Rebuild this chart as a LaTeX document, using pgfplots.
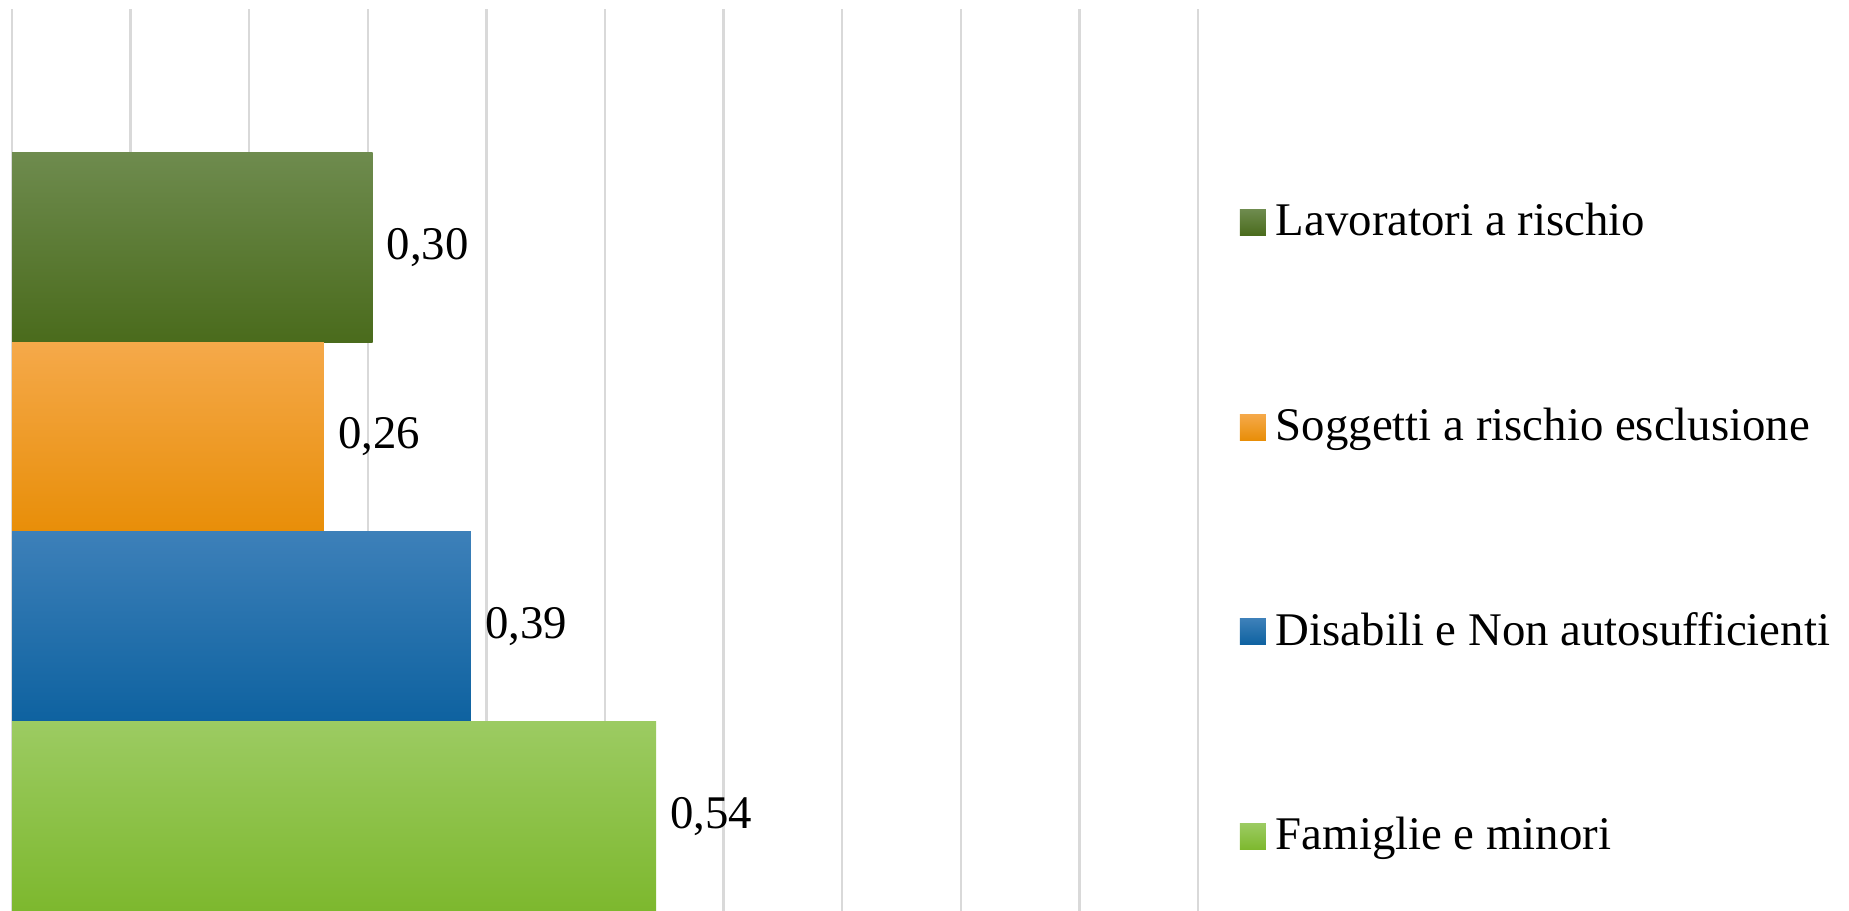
\documentclass[border=0pt]{standalone}
\usepackage{pgfplots}
\pgfplotsset{compat=1.18}
\usepackage{fontspec}
\setmainfont{Liberation Serif}
\definecolor{gTop}{HTML}{6E8B4E}
\definecolor{gBot}{HTML}{4A6B1C}
\definecolor{oTop}{HTML}{F5A94A}
\definecolor{oBot}{HTML}{E88E08}
\definecolor{bTop}{HTML}{3D80B9}
\definecolor{bBot}{HTML}{0E62A0}
\definecolor{lTop}{HTML}{9CCB62}
\definecolor{lBot}{HTML}{7DB82E}
\definecolor{gridc}{HTML}{D9D9D9}
\begin{document}
\begin{tikzpicture}
\begin{axis}[
  name=ax,
  scale only axis,
  width=296.5bp, height=225.5bp,
  xmin=0, xmax=1, ymin=-0.5, ymax=4.257,
  xtick={0,0.1,0.2,0.3,0.4,0.5,0.6,0.7,0.8,0.9,1},
  xticklabels={},
  ytick=\empty,
  major tick length=0pt,
  axis line style={draw=none},
  xmajorgrids,
  grid style={gridc, line width=0.6bp},
  xbar,
  point meta=x,
  every axis plot post/.append style={bar shift=0pt, bar width=1, draw=none,
    legend image code/.code={\path[##1,draw=none] (0bp,-3.25bp) rectangle (6.5bp,3.25bp);}},
  nodes near coords={\pgfmathprintnumber[assume math mode=true,fixed,fixed zerofill,precision=2,use comma]{\pgfplotspointmeta}},
  nodes near coords align={horizontal},
  every node near coord/.append style={font=\fontsize{11.7bp}{13bp}\selectfont, text=black},
  legend style={at={(1.0346,0.4228)}, anchor=west, draw=none, fill=none, inner sep=0pt,
    row sep=41.5bp, column sep=2.5bp, font=\fontsize{11.7bp}{14bp}\selectfont,
    nodes={inner sep=0pt}},
  legend cell align=left,
]
\addplot[top color=gTop, bottom color=gBot] coordinates {(0.304,3)};
\addlegendentry{Lavoratori a rischio}
\addplot[top color=oTop, bottom color=oBot] coordinates {(0.263,2)};
\addlegendentry{Soggetti a rischio esclusione}
\addplot[top color=bTop, bottom color=bBot] coordinates {(0.387,1)};
\addlegendentry{Disabili e Non autosufficienti}
\addplot[top color=lTop, bottom color=lBot] coordinates {(0.543,0)};
\addlegendentry{Famiglie e minori}
\end{axis}
\pgfresetboundingbox
\path (ax.south west) ++(-3bp,0) rectangle ++(462.25bp,227.75bp);
\end{tikzpicture}
\end{document}
